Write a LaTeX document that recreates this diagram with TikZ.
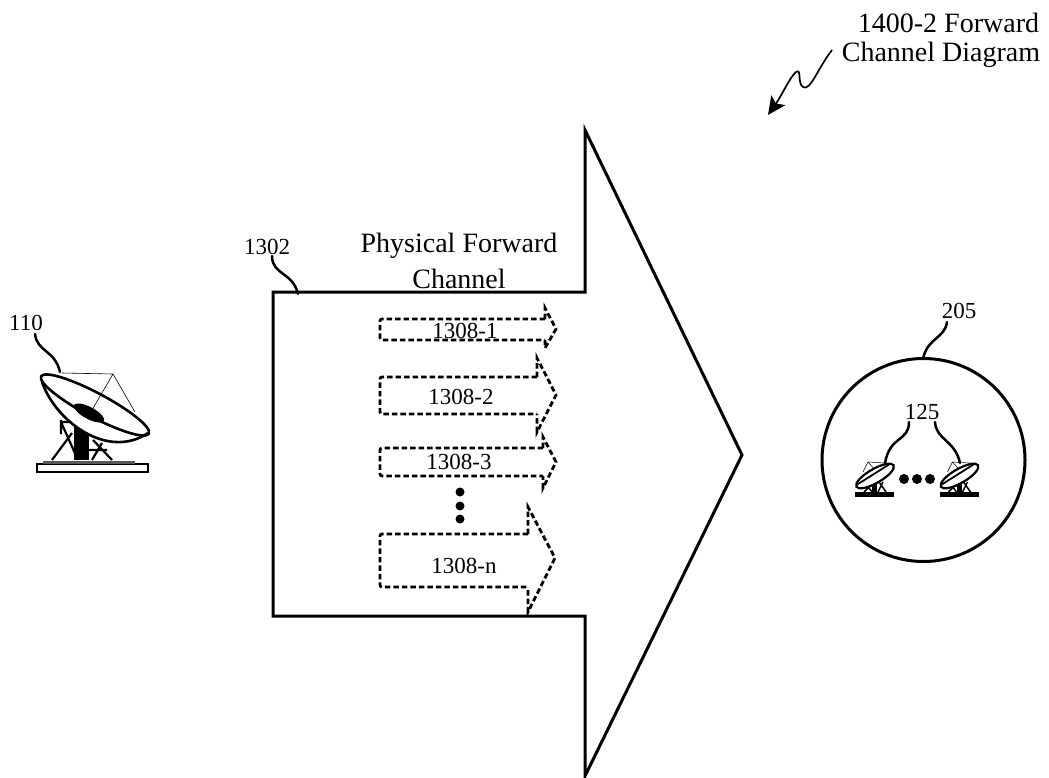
\documentclass[tikz,border=0pt]{standalone}
\usepackage{fontspec}
\setmainfont{Liberation Serif}
\usetikzlibrary{arrows.meta}
\tikzset{
  outline/.style={draw=black,line width=3pt,line join=miter},
  dasharrow/.style={draw=black,line width=2.8pt,dash pattern=on 5.5pt off 3pt,rounded corners=2pt},
  leader/.style={draw=black,line width=2.5pt,line cap=round},
  lbl/.style={inner sep=0pt,align=center,font=\fontsize{23}{27}\selectfont},
  biglbl/.style={inner sep=0pt,align=center,font=\fontsize{28}{33}\selectfont},
  spot/.style={circle,fill=black,inner sep=0pt},
}
% large antenna, drawn around the point (#1,#2)
\newcommand{\bigdish}[2]{%
\begin{scope}[shift={(#1,#2)}]
  \draw[line width=2.6pt] (-41,42) rectangle (70,50);
  \fill[black!65] (-35,39) rectangle (57,42);
  \fill (-4,5) rectangle (11,38);
  \draw[line width=2.2pt] (-26,38) -- (-6,11) (-17,0) -- (0,38) (-17,-2) -- (-17,12) (-18,0) -- (-6,0) (34,38) -- (15,18) (14,38) -- (24,21) (11,28) -- (29,28);
  \fill[white] (-36,-40) .. controls (-22,0) and (30,38) .. (70,11) -- cycle;
  \draw[line width=2.6pt,rotate around={-28:(17,-17)}] (17,-17) ellipse (61pt and 12pt);
  \draw[line width=2.6pt] (-36,-40) .. controls (-22,0) and (30,38) .. (70,11);
  \fill[rotate around={-28:(11,-9)}] (11,-9) ellipse (17pt and 6pt);
  \draw[line width=0.6pt] (-16,-49) -- (35,-48) -- (57,-10) (35,-48) -- (14,-12);
\end{scope}}
% small antenna, drawn around the point (#1,#2)
\newcommand{\smalldish}[2]{%
\begin{scope}[shift={(#1,#2)}]
  \fill (-20,15.5) rectangle (19,20.5);
  \draw[line width=1.5pt] (-11,16) -- (-3,8) (-3,16) -- (-9,8) (11,16) -- (4,6) (3,16) -- (8,6);
  \fill (-3,8) rectangle (2,16);
  \draw[line width=0.5pt] (-12,-4) -- (-7,-14) -- (10,-13) (-7,-14) -- (1,-5);
  \draw[line width=2.2pt,fill=white,rotate around={30:(0,0)}] (0,0) ellipse (21.5pt and 7pt);
  \draw[line width=1.8pt,rotate around={30:(0,0)}] (-20,-1.5) -- (19,-3);
\end{scope}}
\begin{document}
\begin{tikzpicture}[x=1pt,y=-1pt,line cap=butt]
\useasboundingbox (0,0) rectangle (1049,778);
% main channel arrow
\draw[outline] (273,292) -- (585,292) -- (585,130) -- (742,455) -- (585,776) -- (585,616) -- (273,616) -- cycle;
% dashed sub-channels
\draw[dasharrow] (545,319) -- (380,319) -- (380,340) -- (545,340);
\draw[dasharrow,rounded corners=0pt] (545,319) -- (545,308) -- (556,329) -- (545,348) -- (545,340);
\draw[dasharrow] (537,377) -- (380,377) -- (380,414) -- (537,414);
\draw[dasharrow,rounded corners=0pt] (537,377) -- (537,358) -- (556,395) -- (537,432) -- (537,414);
\draw[dasharrow] (543,448) -- (380,448) -- (380,476) -- (543,476);
\draw[dasharrow,rounded corners=0pt] (543,448) -- (543,437) -- (556,462) -- (543,488) -- (543,476);
\draw[dasharrow] (528,534) -- (380,534) -- (380,587) -- (528,587);
\draw[dasharrow,rounded corners=0pt] (528,534) -- (528,507) -- (555,558) -- (528,612) -- (528,587);
\node[lbl] (s1) at (465,331) {1308-1};
\node[lbl] (s2) at (461,397) {1308-2};
\node[lbl] (s3) at (459,462) {1308-3};
\node[lbl] (sn) at (464,566) {1308-n};
\node[spot,minimum size=9pt] (d1) at (460,492) {};
\node[spot,minimum size=9pt] (d2) at (460,506) {};
\node[spot,minimum size=9pt] (d3) at (460,519) {};
\node[biglbl] (pf) at (459,246) {Physical Forward};
\node[biglbl] (pc) at (459,279) {Channel};
\node[lbl] (l1302) at (267,247) {1302};
\coordinate (c1302a) at (272,256);
\coordinate (c1302b) at (298,294);
\draw[leader] (c1302a) .. controls (272,275) and (293,272) .. (c1302b);
% gateway
\bigdish{78}{422}
\node[lbl] (l110) at (26,323) {110};
\coordinate (c110a) at (35,334);
\coordinate (c110b) at (60,372);
\draw[leader] (c110a) .. controls (37,352) and (55,350) .. (c110b);
% terminal circle
\node[draw=black,line width=3pt,circle,minimum size=203pt,inner sep=0pt] (ring) at (923.5,460) {};
\node[lbl] (l205) at (959,311) {205};
\coordinate (c205a) at (947,322);
\draw[leader] (c205a) .. controls (945,338) and (928,338) .. (ring.north);
\smalldish{875}{476}
\smalldish{959.5}{476}
\node[spot,minimum size=10pt] (t1) at (904,479) {};
\node[spot,minimum size=10pt] (t2) at (917,479) {};
\node[spot,minimum size=10pt] (t3) at (930,479) {};
\node[lbl] (l125) at (922,412) {125};
\coordinate (c125a) at (909,422);
\coordinate (c125b) at (885,463);
\coordinate (c125c) at (935,422);
\coordinate (c125d) at (960,463);
\draw[leader] (c125a) .. controls (909,442) and (890,435) .. (c125b);
\draw[leader] (c125c) .. controls (936,440) and (955,440) .. (c125d);
% title
\node[biglbl] (t1400) at (948.5,23) {1400-2 Forward};
\node[biglbl] (tchan) at (941,55) {Channel Diagram};
\coordinate (ca) at (832,50);
\coordinate (cb) at (768,115);
\draw[line width=1.7pt,-{Stealth[length=18pt,width=17pt,inset=4pt]}] (ca) .. controls (818,68) and (810,92) .. (803,87) .. controls (797,83) and (802,68) .. (796,72) .. controls (790,77) and (782,95) .. (cb);
\end{tikzpicture}
\end{document}
